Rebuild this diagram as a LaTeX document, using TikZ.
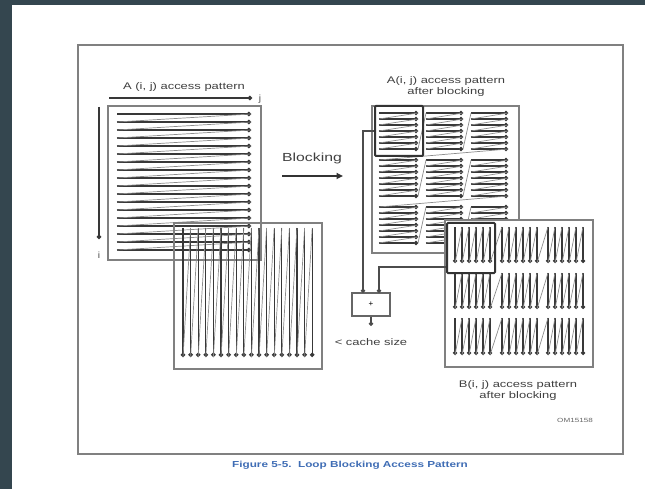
\documentclass[tikz,border=0pt]{standalone}
\usepackage{fontspec}
\setmainfont{Liberation Sans}
\newfontfamily\labfont[FakeStretch=1.35]{Liberation Sans}
\usetikzlibrary{arrows.meta}
\definecolor{slate}{HTML}{34464F}
\definecolor{capblue}{HTML}{3F6DB5}
\begin{document}
\begin{tikzpicture}[x=1pt,y=-1pt,
  scan/.style={draw=black!78, line width=1.3pt, -{Circle[length=4.4pt]}},
  scantwo/.style={draw=black!78, line width=1.2pt, -{Circle[length=4.2pt]}},
  ret/.style={draw=black!45, line width=0.7pt},
  boxline/.style={draw=black!50, line width=1.5pt},
  hilite/.style={draw=black!80, line width=2pt, rounded corners=1pt, inner sep=0pt},
  conn/.style={draw=black!70, line width=1.1pt, -{Circle[length=4.4pt]}},
  lab/.style={font=\labfont\fontsize{9.6}{11}\selectfont, text=black!75, inner sep=0pt},
  tiny/.style={font=\labfont\fontsize{6}{7}\selectfont, text=black!60, inner sep=0pt},
  idx/.style={font=\labfont\fontsize{9}{10}\selectfont, text=black!60, inner sep=0pt}]
\useasboundingbox (0,0) rectangle (645,489);
\fill[white] (0,0) rectangle (645,489);
\fill[slate] (0,0) rectangle (645,5);
\fill[slate] (0,0) rectangle (12,489);
% figure frame
\draw[draw=black!50, line width=1.3pt] (78,45) rectangle (623,454);

% ---------- left A (i,j) pattern ----------
\node[lab] (titA) at (184,87) {A (i, j) access pattern};
\coordinate (jS) at (109,98); \coordinate (jE) at (252,98);
\draw[scan] (jS) -- (jE);
\node[idx] (jl) at (260,99) {j};
\coordinate (iS) at (99,107); \coordinate (iE) at (99,239);
\draw[scan] (iS) -- (iE);
\node[idx] (il) at (99,255) {i};
\foreach \k in {0,...,17} {\draw[scan] (117,114+8*\k) -- (251,114+8*\k);}
\foreach \k in {0,...,16} {\draw[ret] (251,114+8*\k) -- (117,122+8*\k);}
\draw[boxline] (108,106) rectangle (261,260);

% ---------- left B (i,j) pattern ----------
\foreach \k in {0,...,17} {\draw[scan] (183+7.6*\k,228) -- (183+7.6*\k,357);}
\foreach \k in {0,...,16} {\draw[ret] (183+7.6*\k,357) -- (190.6+7.6*\k,228);}
\draw[boxline] (174,223) rectangle (322,369);

% ---------- Blocking arrow ----------
\node[lab, font=\labfont\fontsize{11.7}{13}\selectfont] (blk) at (312,158) {Blocking};
\coordinate (bS) at (282,176); \coordinate (bE) at (343,176);
\draw[line width=1.8pt, black!80, -{Triangle[length=6.5pt,width=6pt]}] (bS) -- (bE);

% ---------- A after blocking ----------
\node[lab, align=center] (titAb) at (446,87) {A(i, j) access pattern\\after blocking};
\foreach \y in {113,160,207} {
  \foreach \xs/\xe in {379/418,426/463,471/508} {
    \foreach \k in {0,...,6} {\draw[scantwo] (\xs,\y+6*\k) -- (\xe,\y+6*\k);}
    \foreach \k in {0,...,5} {\draw[ret] (\xe,\y+6*\k) -- (\xs,\y+6*\k+6);}
  }
  \draw[ret] (418,\y+36) -- (426,\y);
  \draw[ret] (463,\y+36) -- (471,\y);
}
\draw[ret] (508,149) -- (379,160);
\draw[ret] (508,196) -- (379,207);
\draw[boxline] (372,106) rectangle (519,253);
\node[hilite, minimum width=48pt, minimum height=50pt] (hA) at (399,131) {};

% ---------- B after blocking ----------
\draw[boxline, fill=white] (445,220) rectangle (593,367);
\foreach \yt/\yb in {227/263,273/309,318/355} {
  \foreach \xs in {455,502,548} {
    \foreach \k in {0,...,5} {\draw[scantwo] (\xs+7*\k,\yt) -- (\xs+7*\k,\yb);}
    \foreach \k in {0,...,4} {\draw[ret] (\xs+7*\k,\yb) -- (\xs+7*\k+7,\yt);}
  }
  \draw[ret] (490,\yb) -- (502,\yt);
  \draw[ret] (537,\yb) -- (548,\yt);
}
\node[hilite, minimum width=48pt, minimum height=50pt] (hB) at (471,248) {};
\node[lab, align=center] (titBb) at (518,391) {B(i, j) access pattern\\after blocking};
\node[tiny, anchor=east] (om) at (593,420) {OM15158};

% ---------- adder ----------
\node[draw=black!60, line width=1.1pt, minimum width=38pt, minimum height=23pt, inner sep=0pt,
      font=\fontsize{8}{9}\selectfont] (add) at (371,304.5) {+};
\coordinate (inL) at (363,293);
\coordinate (inR) at (379,293);
\draw[conn] (hA.west) -| (inL);
\draw[conn] ([yshift=7pt]hB.south west) -| (inR);
\coordinate (out) at (371,326);
\draw[conn] (add.south) -- (out);
\node[lab] (cs) at (371,342) {< cache size};

% ---------- caption ----------
\node[font=\labfont\bfseries\fontsize{8.7}{10}\selectfont, text=capblue, inner sep=0pt] (cap) at (350,465)
  {Figure 5-5.\ \ Loop Blocking Access Pattern};
\end{tikzpicture}
\end{document}
